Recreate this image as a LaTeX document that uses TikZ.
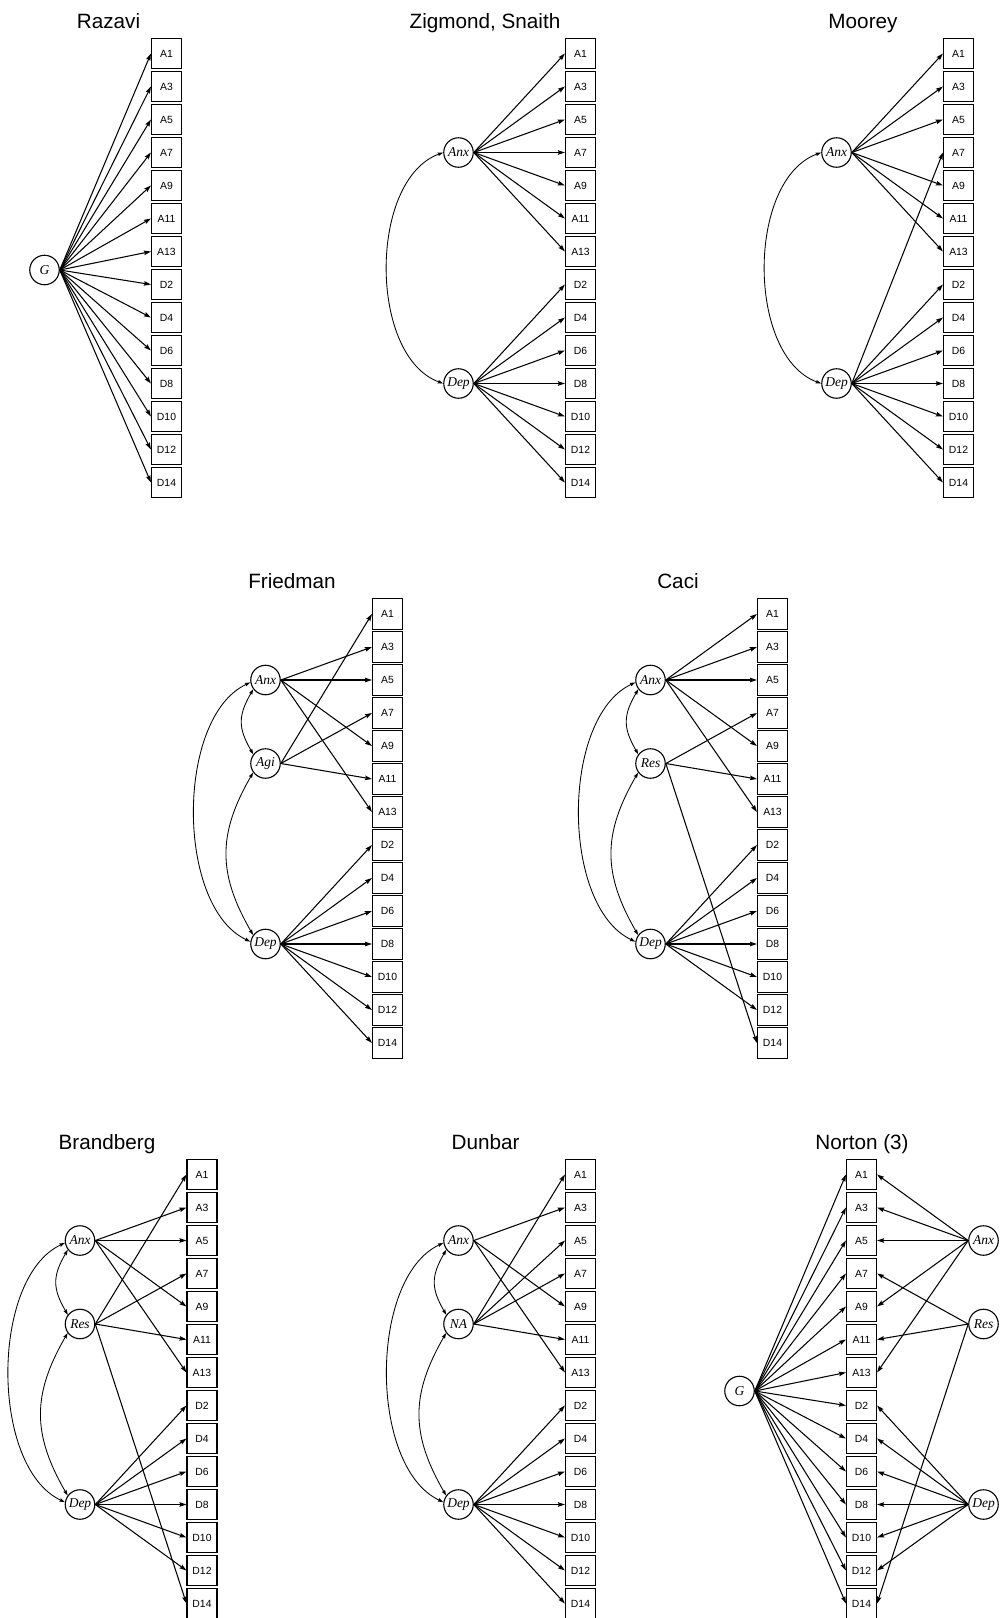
\documentclass[tikz,border=0pt]{standalone}
\usepackage{fontspec}
\setmainfont{Liberation Serif}
\setsansfont{Liberation Sans}
\usetikzlibrary{arrows.meta}
\tikzset{
  ind/.style={draw, line width=1.1pt, minimum width=30pt, minimum height=30.5pt, inner sep=0pt,
    font=\sffamily\fontsize{10.4}{12}\selectfont},
  lat/.style={draw, circle, line width=1.1pt, minimum size=29.5pt, inner sep=0pt,
    font=\itshape\fontsize{13.5}{15}\selectfont},
  ttl/.style={anchor=base, font=\sffamily\fontsize{20.7}{24}\selectfont},
  edge/.style={line width=1.05pt, -{Stealth[length=7pt,width=4.5pt,inset=1pt]}},
  cov/.style={line width=0.85pt, {Stealth[length=5.5pt,width=3.6pt,inset=0.8pt]}-{Stealth[length=5.5pt,width=3.6pt,inset=0.8pt]}},
}
% prefix, x, y0 (pixels from top)
\newcommand{\mkinds}[3]{%
  \foreach \lab [count=\i from 0] in {A1,A3,A5,A7,A9,A11,A13,D2,D4,D6,D8,D10,D12,D14}{
    \node[ind] (#1\lab) at (#2,{-(#3+33*\i)}) {\lab};
  }%
}
% source node, prefix, list : source.east -> box.west
\newcommand{\fanR}[3]{\foreach \t in {#3}{\draw[edge] (#1.east) -- (#2\t.west);}}
% source node, prefix, list : source.west -> box.east
\newcommand{\fanL}[3]{\foreach \t in {#3}{\draw[edge] (#1.west) -- (#2\t.east);}}
% two-latent covariance
\newcommand{\covtwo}[2]{\draw[cov] (#1.180) .. controls +(200:79.5) and +(160:79.5) .. (#2.180);}
% three-latent covariances: top, middle, bottom
\newcommand{\covthree}[3]{%
  \draw[cov] (#1.189) .. controls +(205:82.4) and +(155:82.4) .. (#3.171);
  \draw[cov] (#1.217) .. controls +(240:30.7) and +(120:30.7) .. (#2.143);
  \draw[cov] (#2.216) .. controls +(240:71) and +(120:71) .. (#3.144);
}
\begin{document}
\begin{tikzpicture}[x=1pt,y=1pt]
\useasboundingbox (0,0) rectangle (1001,-1618);

% ---------------- Row 1 ----------------
\node[ttl] (raT) at (108.5,-28) {Razavi};
\mkinds{ra}{166.5}{53.5}
\node[lat] (raG) at (44.5,-270) {G};
\fanR{raG}{ra}{A1,A3,A5,A7,A9,A11,A13,D2,D4,D6,D8,D10,D12,D14}

\node[ttl] (zsT) at (485,-28) {Zigmond, Snaith};
\mkinds{zs}{580.5}{53.5}
\node[lat] (zsAnx) at (458.5,-152.5) {Anx};
\node[lat] (zsDep) at (458.5,-383.5) {Dep};
\fanR{zsAnx}{zs}{A1,A3,A5,A7,A9,A11,A13}
\fanR{zsDep}{zs}{D2,D4,D6,D8,D10,D12,D14}
\covtwo{zsAnx}{zsDep}

\node[ttl] (moT) at (863,-28) {Moorey};
\mkinds{mo}{958.5}{53.5}
\node[lat] (moAnx) at (836.5,-152.5) {Anx};
\node[lat] (moDep) at (836.5,-383.5) {Dep};
\fanR{moAnx}{mo}{A1,A3,A5,A9,A11,A13}
\fanR{moDep}{mo}{A7,D2,D4,D6,D8,D10,D12,D14}
\covtwo{moAnx}{moDep}

% ---------------- Row 2 ----------------
\node[ttl] (frT) at (292,-588.5) {Friedman};
\mkinds{fr}{387.5}{614}
\node[lat] (frAnx) at (265.5,-680) {Anx};
\node[lat] (frAgi) at (265.5,-763.5) {Agi};
\node[lat] (frDep) at (265.5,-944) {Dep};
\fanR{frAnx}{fr}{A3,A5,A9,A13}
\fanR{frAgi}{fr}{A1,A7,A11}
\fanR{frDep}{fr}{D2,D4,D6,D8,D10,D12,D14}
\covthree{frAnx}{frAgi}{frDep}

\node[ttl] (caT) at (678,-588.5) {Caci};
\mkinds{ca}{772.5}{614}
\node[lat] (caAnx) at (650.5,-680) {Anx};
\node[lat] (caRes) at (650.5,-763.5) {Res};
\node[lat] (caDep) at (650.5,-944) {Dep};
\fanR{caAnx}{ca}{A1,A3,A5,A9,A13}
\fanR{caRes}{ca}{A7,A11,D14}
\fanR{caDep}{ca}{D2,D4,D6,D8,D10,D12}
\covthree{caAnx}{caRes}{caDep}

% ---------------- Row 3 ----------------
\node[ttl] (brT) at (107,-1149) {Brandberg};
\mkinds{br}{202}{1174.5}
\node[lat] (brAnx) at (80,-1240.5) {Anx};
\node[lat] (brRes) at (80,-1324) {Res};
\node[lat] (brDep) at (80,-1504.5) {Dep};
\fanR{brAnx}{br}{A3,A5,A9,A13}
\fanR{brRes}{br}{A1,A7,A11,D14}
\fanR{brDep}{br}{D2,D4,D6,D8,D10,D12}
\covthree{brAnx}{brRes}{brDep}

\node[ttl] (duT) at (485.5,-1149) {Dunbar};
\mkinds{du}{580.5}{1174.5}
\node[lat] (duAnx) at (458.5,-1240.5) {Anx};
\node[lat] (duNA) at (458.5,-1324) {NA};
\node[lat] (duDep) at (458.5,-1504.5) {Dep};
\fanR{duAnx}{du}{A3,A9,A13}
\fanR{duNA}{du}{A1,A5,A7,A11}
\fanR{duDep}{du}{D2,D4,D6,D8,D10,D12,D14}
\covthree{duAnx}{duNA}{duDep}

\node[ttl] (noT) at (862,-1149) {Norton (3)};
\mkinds{no}{861.5}{1174.5}
\node[lat] (noG) at (739.5,-1391) {G};
\node[lat] (noAnx) at (983.5,-1240.5) {Anx};
\node[lat] (noRes) at (983.5,-1324) {Res};
\node[lat] (noDep) at (983.5,-1504.5) {Dep};
\fanR{noG}{no}{A1,A3,A5,A7,A9,A11,A13,D2,D4,D6,D8,D10,D12,D14}
\fanL{noAnx}{no}{A1,A3,A5,A9,A13}
\fanL{noRes}{no}{A7,A11,D14}
\fanL{noDep}{no}{D2,D4,D6,D8,D10,D12}
\end{tikzpicture}
\end{document}
